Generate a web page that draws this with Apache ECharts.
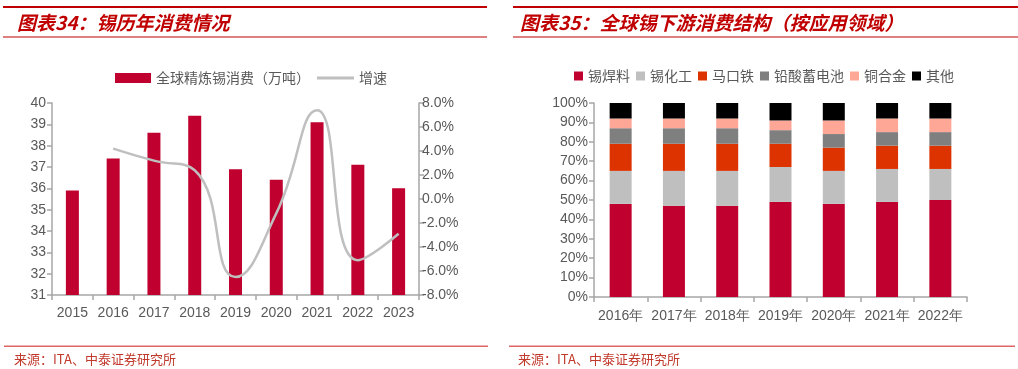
<!DOCTYPE html>
<html><head><meta charset="utf-8">
<script src="https://cdn.jsdelivr.net/npm/echarts@6/dist/echarts.min.js"></script>
<style>html,body{margin:0;padding:0;background:#fff}#c{width:1018px;height:369px}</style>
</head><body><div id="c"></div>
<script>
// Left chart data
const yearsL = ['2015','2016','2017','2018','2019','2020','2021','2022','2023'];
const consumption = [35.9, 37.4, 38.6, 39.4, 36.9, 36.4, 39.1, 37.1, 36.0];
const growth = [null, 4.2, 3.2, 2.4, -6.5, -1.2, 7.4, -5.1, -2.9];
// Right chart data
const yearsR = ['2016年','2017年','2018年','2019年','2020年','2021年','2022年'];
const solder = [48, 47, 47, 49, 48, 49, 50];
const chemical = [17, 18, 18, 18, 17, 17, 16];
const tinplate = [14, 14, 14, 12, 12, 12, 12];
const leadAcid = [8, 8, 8, 7, 7, 7, 7];
const copperAlloy = [5, 5, 5, 5, 7, 7, 7];
const others = [8, 8, 8, 9, 9, 8, 8];
const seriesNamesR = ['锡焊料','锡化工','马口铁','铅酸蓄电池','铜合金','其他'];
const colorsR = ['#C0002F','#BFBFBF','#DD3300','#7F7F7F','#FFA797','#000000'];

const FONT = '"Liberation Sans", Arial, sans-serif';
const CJK = '"Noto Sans CJK SC", sans-serif';
const AX = '#A6A6A6';
const TXT = '#595959';

const chart = echarts.init(document.getElementById('c'));
const dataR = [solder, chemical, tinplate, leadAcid, copperAlloy, others];

const axisCommon = {
  axisLine: { show: true, onZero: false, lineStyle: { color: AX, width: 1.5 } },
  axisTick: { show: true, length: 5, lineStyle: { color: AX, width: 1.5 } },
  splitLine: { show: false }
};

const option = {
  animation: false,
  backgroundColor: '#fff',
  legend: [
    { left: 110, top: 66, itemWidth: 36, itemHeight: 10, itemGap: 8,
      textStyle: { color: TXT, fontSize: 14, fontFamily: CJK },
      data: [{ name: '全球精炼锡消费（万吨）', icon: 'rect' }] },
    { left: 312, top: 66, itemWidth: 37, itemHeight: 3,
      textStyle: { color: TXT, fontSize: 14, fontFamily: CJK },
      data: [{ name: '增速', icon: 'rect' }] },
    { left: 569, top: 64, itemWidth: 9, itemHeight: 9, itemGap: 6,
      textStyle: { color: TXT, fontSize: 14, fontFamily: CJK },
      data: seriesNamesR.map(n => ({ name: n, icon: 'rect' })) }
  ],
  grid: [
    { left: 52, right: 599, top: 103, height: 192 },
    { left: 594, right: 51, top: 103, height: 194 }
  ],
  xAxis: [
    Object.assign({ type: 'category', gridIndex: 0, data: yearsL,
      axisLabel: { color: TXT, fontSize: 14, fontFamily: FONT, margin: 11, interval: 0 } }, axisCommon),
    Object.assign({ type: 'category', gridIndex: 1, data: yearsR,
      axisLabel: { color: TXT, fontSize: 14, fontFamily: FONT, margin: 12, interval: 0 } }, axisCommon)
  ],
  yAxis: [
    Object.assign({ type: 'value', gridIndex: 0, min: 31, max: 40, interval: 1,
      axisLabel: { color: TXT, fontSize: 14, fontFamily: FONT, margin: 6 } }, axisCommon),
    Object.assign({ type: 'value', gridIndex: 0, position: 'right', min: -8, max: 8, interval: 2,
      axisLabel: { color: TXT, fontSize: 14, fontFamily: FONT, margin: 3,
        formatter: v => v.toFixed(1) + '%' } }, axisCommon),
    Object.assign({ type: 'value', gridIndex: 1, min: 0, max: 100, interval: 10,
      axisLabel: { color: TXT, fontSize: 14, fontFamily: FONT, margin: 6,
        formatter: v => v + '%' } }, axisCommon)
  ],
  series: [
    { name: '全球精炼锡消费（万吨）', type: 'bar', xAxisIndex: 0, yAxisIndex: 0,
      data: consumption, barWidth: 13, itemStyle: { color: '#C0002F' } },
    { name: '增速', type: 'line', xAxisIndex: 0, yAxisIndex: 1, data: growth,
      smooth: 0.5, symbol: 'none', lineStyle: { color: '#BFBFBF', width: 2.5 },
      itemStyle: { color: '#BFBFBF' } }
  ].concat(seriesNamesR.map((n, i) => ({
    name: n, type: 'bar', stack: 'r', xAxisIndex: 1, yAxisIndex: 2,
    data: dataR[i], barWidth: 22, itemStyle: { color: colorsR[i] }
  }))),
  graphic: [
    { type: 'rect', shape: { x: 3, y: 6, width: 484, height: 2 }, style: { fill: '#C00000' } },
    { type: 'rect', shape: { x: 3, y: 36.5, width: 484, height: 1 }, style: { fill: '#C00000' } },
    { type: 'text', left: 17, top: 13, style: { text: '图表34：锡历年消费情况', fill: '#C00000',
      font: 'italic bold 19px "Noto Sans CJK SC", sans-serif' } },
    { type: 'rect', shape: { x: 513, y: 6, width: 505, height: 2 }, style: { fill: '#C00000' } },
    { type: 'rect', shape: { x: 513, y: 36.5, width: 505, height: 1 }, style: { fill: '#C00000' } },
    { type: 'text', left: 520, top: 13, style: { text: '图表35：全球锡下游消费结构（按应用领域）', fill: '#C00000',
      font: 'italic bold 19px "Noto Sans CJK SC", sans-serif' } },
    { type: 'rect', shape: { x: 4, y: 345.5, width: 484, height: 1.5 }, style: { fill: '#E06666' } },
    { type: 'rect', shape: { x: 509, y: 345.5, width: 506, height: 1.5 }, style: { fill: '#E06666' } },
    { type: 'text', left: 14, top: 353, style: { text: '来源：ITA、中泰证券研究所', fill: '#C0392B',
      font: '13px "Noto Sans CJK SC", sans-serif' } },
    { type: 'text', left: 518, top: 353, style: { text: '来源：ITA、中泰证券研究所', fill: '#C0392B',
      font: '13px "Noto Sans CJK SC", sans-serif' } }
  ]
};
chart.setOption(option);
</script></body></html>
